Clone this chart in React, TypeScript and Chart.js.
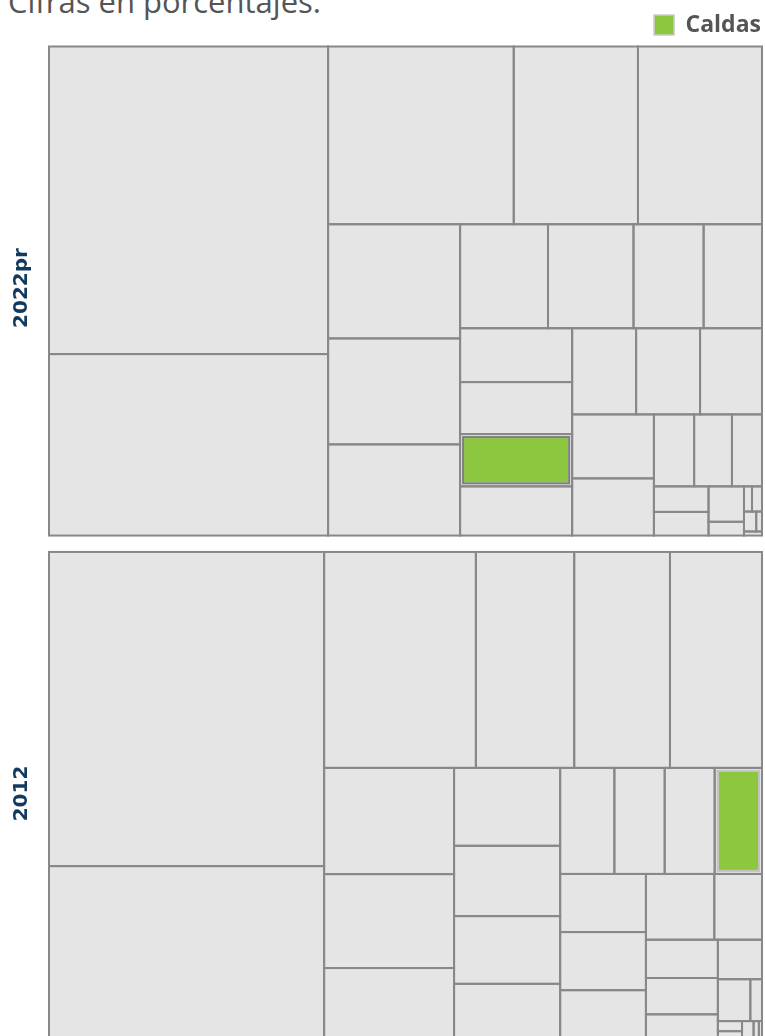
import React, { useEffect, useRef } from 'react';
import { Chart, registerables } from 'chart.js';

Chart.register(...registerables);

// ---------- DATA ----------
const titleText = 'Cifras en porcentajes.';
const highlightName = 'Caldas';
const years = ['2022pr', '2012'];

const names2022 = [
  'Bogotá D.C.', 'Antioquia', 'Valle del Cauca', 'Santander', 'Cundinamarca', 'Atlántico',
  'Bolívar', 'Meta', 'Boyacá', 'Tolima', 'Cesar', 'Córdoba', 'Huila', 'Norte de Santander',
  'Caldas', 'Cauca', 'Risaralda', 'Nariño', 'Casanare', 'Magdalena', 'La Guajira', 'Sucre',
  'Quindío', 'Arauca', 'Putumayo', 'Chocó', 'Caquetá', 'San Andrés', 'Guaviare', 'Amazonas',
  'Vichada', 'Guainía', 'Vaupés',
];
const shares2022 = [
  24.61, 14.52, 9.46, 6.33, 6.32, 4.32, 4.01, 3.45, 2.62, 2.55, 2.09, 1.74, 1.73, 1.67,
  1.68, 1.58, 1.58, 1.58, 1.53, 1.5, 1.34, 0.83, 0.78, 0.62, 0.4, 0.37, 0.36, 0.14,
  0.058, 0.072, 0.07, 0.033, 0.021,
];
// number of cells placed in each successive strip of the treemap
const strips2022 = [2, 3, 3, 4, 4, 3, 2, 3, 2, 2, 2, 2, 1];

const names2012 = [
  'Bogotá D.C.', 'Antioquia', 'Valle del Cauca', 'Santander', 'Meta', 'Cundinamarca',
  'Atlántico', 'Bolívar', 'Boyacá', 'Tolima', 'Casanare', 'Cesar', 'Huila', 'Córdoba',
  'Norte de Santander', 'Cauca', 'Caldas', 'Risaralda', 'Nariño', 'La Guajira', 'Magdalena',
  'Sucre', 'Quindío', 'Arauca', 'Putumayo', 'Chocó', 'Caquetá', 'San Andrés', 'Guaviare',
  'Vichada', 'Amazonas', 'Guainía', 'Vaupés',
];
const shares2012 = [
  24.79, 13.8, 9.4, 6.09, 5.93, 5.7, 3.96, 3.5, 2.72, 2.37, 2.14, 2.06, 1.74, 1.65, 1.53,
  1.52, 1.44, 1.43, 1.43, 1.25, 1.29, 0.9, 0.79, 0.75, 0.55, 0.5, 0.39, 0.14, 0.07, 0.068,
  0.066, 0.03, 0.018,
];
const strips2012 = [2, 4, 3, 4, 4, 3, 2, 3, 1, 2, 2, 1, 2];

// ---------- STYLE ----------
const CELL_FILL = '#e5e5e5';
const CELL_BORDER = '#888888';
const GREEN = '#8dc63f';
const LABEL_COLOR = '#12395f';
const TEXT_GRAY = '#555555';
const PANEL_GAP = 16.4;
const FONT = '"Open Sans", "Noto Sans", sans-serif';
const LABEL_FONT = 'bold 20px "DejaVu Sans", "Open Sans", sans-serif';

type Cell = { x: number; y: number; w: number; h: number; i: number };

function stripTreemap(values: number[], strips: number[], x0: number, y0: number, w0: number, h0: number): Cell[] {
  const cells: Cell[] = [];
  let x = x0, y = y0, w = w0, h = h0;
  let remaining = values.reduce((a, b) => a + b, 0);
  let i = 0;
  for (const n of strips) {
    const group = values.slice(i, i + n);
    const sum = group.reduce((a, b) => a + b, 0);
    const frac = remaining > 0 ? Math.min(1, sum / remaining) : 1;
    if (w >= h) {
      const sw = w * frac;
      let cy = y;
      group.forEach((v, k) => {
        const ch = (h * v) / sum;
        cells.push({ x, y: cy, w: sw, h: ch, i: i + k });
        cy += ch;
      });
      x += sw;
      w -= sw;
    } else {
      const sh = h * frac;
      let cx = x;
      group.forEach((v, k) => {
        const cw = (w * v) / sum;
        cells.push({ x: cx, y, w: cw, h: sh, i: i + k });
        cx += cw;
      });
      y += sh;
      h -= sh;
    }
    remaining -= sum;
    i += n;
  }
  return cells;
}

const panels = [
  { axis: 'y2022', label: years[0], names: names2022, values: shares2022, strips: strips2022, ring: '#7f7f7f', gapTop: 0, gapBottom: PANEL_GAP / 2 },
  { axis: 'y2012', label: years[1], names: names2012, values: shares2012, strips: strips2012, ring: '#c2c2c2', gapTop: PANEL_GAP / 2, gapBottom: 0 },
];

function panelBox(chart: any, p: (typeof panels)[number]) {
  const xs = chart.scales.x;
  const ys = chart.scales[p.axis];
  const left = xs.getPixelForValue(xs.min);
  const right = xs.getPixelForValue(xs.max);
  const top = ys.getPixelForValue(ys.min) + p.gapTop;
  const bottom = ys.getPixelForValue(ys.max) - p.gapBottom;
  return { left, right, top, bottom };
}

const treemapPlugin = {
  id: 'treemapPanels',
  afterDatasetsDraw(chart: any) {
    const ctx: CanvasRenderingContext2D = chart.ctx;
    ctx.save();
    panels.forEach((p) => {
      const b = panelBox(chart, p);
      const cells = stripTreemap(p.values, p.strips, b.left, b.top, b.right - b.left, b.bottom - b.top);
      ctx.fillStyle = CELL_FILL;
      cells.forEach((c) => ctx.fillRect(c.x, c.y, c.w, c.h));
      ctx.strokeStyle = CELL_BORDER;
      ctx.lineWidth = 2;
      cells.forEach((c) => ctx.strokeRect(c.x, c.y, c.w, c.h));
      cells
        .filter((c) => p.names[c.i] === highlightName)
        .forEach((c) => {
          ctx.fillStyle = GREEN;
          ctx.fillRect(c.x + 4, c.y + 4, c.w - 8, c.h - 8);
          ctx.strokeStyle = p.ring;
          ctx.lineWidth = 2;
          ctx.strokeRect(c.x + 3, c.y + 3, c.w - 6, c.h - 6);
        });
      // panel label (rotated, reading bottom to top)
      ctx.save();
      ctx.translate(b.left - 27, (b.top + b.bottom) / 2 - 3);
      ctx.rotate(-Math.PI / 2);
      ctx.textAlign = 'center';
      ctx.textBaseline = 'middle';
      ctx.font = LABEL_FONT;
      ctx.fillStyle = LABEL_COLOR;
      ctx.fillText(p.label, 0, 0);
      ctx.restore();
    });
    ctx.restore();
  },
};

function yAxis() {
  return {
    type: 'linear' as const,
    position: 'left' as const,
    stack: 'panels',
    stackWeight: 1,
    min: 0,
    max: 100,
    reverse: true,
    offset: false,
    grid: { display: false, drawTicks: false },
    border: { display: false },
    ticks: { display: false },
    title: { display: false },
  };
}

export default function App() {
  const canvasRef = useRef<HTMLCanvasElement | null>(null);

  useEffect(() => {
    if (!canvasRef.current) return;
    const chart = new Chart(canvasRef.current, {
      type: 'scatter',
      data: {
        datasets: [
          {
            label: highlightName,
            data: [],
            backgroundColor: GREEN,
            borderColor: '#cccccc',
            borderWidth: 1.5,
            xAxisID: 'x',
            yAxisID: 'y2022',
          },
        ],
      },
      options: {
        animation: false,
        responsive: true,
        maintainAspectRatio: false,
        events: [],
        layout: { padding: { left: 49, right: 3, top: 12.5, bottom: 4 } },
        scales: {
          x: { type: 'linear', min: 0, max: 100, display: false },
          y2012: yAxis(),
          y2022: yAxis(),
        },
        plugins: {
          legend: {
            display: true,
            position: 'top',
            align: 'end',
            labels: {
              boxWidth: 20,
              boxHeight: 20,
              padding: 1,
              color: TEXT_GRAY,
              font: { family: FONT, size: 23, weight: 'bold' },
            },
          },
          title: { display: false },
          tooltip: { enabled: false },
        },
      },
      plugins: [treemapPlugin],
    } as any);
    return () => chart.destroy();
  }, []);

  return (
    <div style={{ position: 'fixed', left: 0, top: 0, width: 765, height: 1036, overflow: 'hidden', background: '#ffffff' }}>
      <div
        style={{
          position: 'absolute',
          left: 8,
          top: -14.5,
          fontFamily: FONT,
          fontSize: 31,
          lineHeight: '31px',
          color: TEXT_GRAY,
          whiteSpace: 'nowrap',
        }}
      >
        {titleText}
      </div>
      <div style={{ position: 'absolute', left: 0, top: 0, width: 765, height: 1045 }}>
        <canvas ref={canvasRef} />
      </div>
    </div>
  );
}
